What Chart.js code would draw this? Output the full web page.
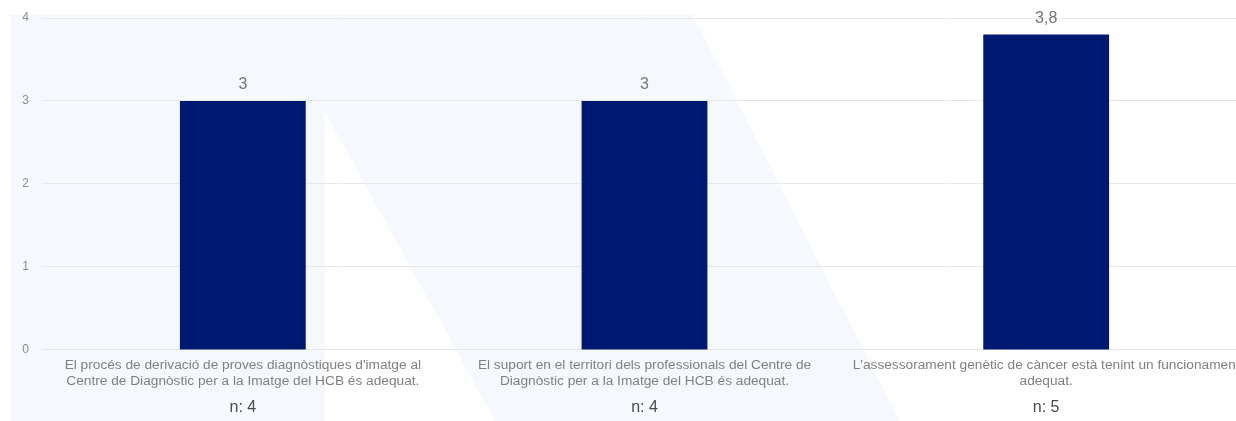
<!DOCTYPE html>
<html>
<head>
<meta charset="utf-8">
<script src="https://cdn.jsdelivr.net/npm/chart.js@4/dist/chart.umd.min.js"></script>
<style>
  html, body { margin: 0; padding: 0; background: #ffffff; overflow: hidden; }
  #wrap { width: 1236px; height: 421px; overflow: hidden; position: relative; }
  canvas { display: block; }
</style>
</head>
<body>
<div id="wrap"><canvas id="chart" width="1252" height="421"></canvas></div>
<script>
// Statements (each split into the lines shown under the axis)
const categories = [
  ["El procés de derivació de proves diagnòstiques d'imatge al", "Centre de Diagnòstic per a la Imatge del HCB és adequat."],
  ["El suport en el territori dels professionals del Centre de", "Diagnòstic per a la Imatge del HCB és adequat."],
  ["L'assessorament genètic de càncer està tenint un funcionament", "adequat."]
];
// Mean score per statement
const scores = [3, 3, 3.8];
// Number of answers per statement
const respondents = [4, 4, 5];
// Y axis tick values
const yTicks = [0, 1, 2, 3, 4];

const FONT = '"Liberation Sans", Arial, sans-serif';
const fmt = v => String(v).replace('.', ',');

// Pale "N" shaped backdrop behind the plot
const backdrop = {
  id: 'backdrop',
  beforeDraw(chart) {
    const ctx = chart.ctx;
    ctx.save();
    ctx.fillStyle = '#f5f8fc';
    ctx.beginPath();
    ctx.moveTo(10, 15);
    ctx.lineTo(693, 15);
    ctx.lineTo(900, 421);
    ctx.lineTo(495, 421);
    ctx.lineTo(325, 112);
    ctx.lineTo(325, 421);
    ctx.lineTo(10, 421);
    ctx.closePath();
    ctx.fill();
    ctx.restore();
  }
};

// Value above each bar and respondent count under each category
const annotations = {
  id: 'annotations',
  afterDatasetsDraw(chart) {
    const ctx = chart.ctx;
    const meta = chart.getDatasetMeta(0);
    const xs = chart.scales.x;
    ctx.save();
    ctx.textAlign = 'center';
    ctx.textBaseline = 'middle';
    ctx.font = '16px ' + FONT;
    ctx.fillStyle = '#757575';
    meta.data.forEach((bar, i) => {
      ctx.fillText(fmt(scores[i]), bar.x, bar.y - 16);
    });
    ctx.fillStyle = '#4a4a4a';
    respondents.forEach((n, i) => {
      ctx.fillText('n: ' + n, xs.getPixelForValue(i), 408);
    });
    ctx.restore();
  }
};

new Chart(document.getElementById('chart'), {
  type: 'bar',
  data: {
    labels: categories,
    datasets: [{
      data: scores,
      backgroundColor: '#001970',
      borderWidth: 0,
      barPercentage: 0.9,
      categoryPercentage: 0.348
    }]
  },
  options: {
    responsive: false,
    animation: false,
    devicePixelRatio: 1,
    layout: { padding: { left: 8, right: 5, top: 18, bottom: 25 } },
    plugins: {
      legend: { display: false },
      tooltip: { enabled: false }
    },
    scales: {
      x: {
        grid: { display: false, drawTicks: false },
        border: { display: true, color: '#e6e6e6' },
        ticks: {
          padding: 7,
          maxRotation: 0,
          autoSkip: false,
          color: '#808080',
          font: { family: FONT, size: 13.7, lineHeight: 1.17 }
        }
      },
      y: {
        min: 0,
        max: 4,
        afterBuildTicks(scale) { scale.ticks = yTicks.map(v => ({ value: v })); },
        afterFit(scale) {
          scale.width = 34;
          scale.paddingTop = 0;
          scale.paddingBottom = 0;
        },
        grid: { color: '#e8e8e8', drawTicks: false },
        border: { display: false },
        ticks: {
          padding: 13,
          color: '#8c8c8c',
          font: { family: FONT, size: 12 }
        }
      }
    }
  },
  plugins: [backdrop, annotations]
});
</script>
</body>
</html>
